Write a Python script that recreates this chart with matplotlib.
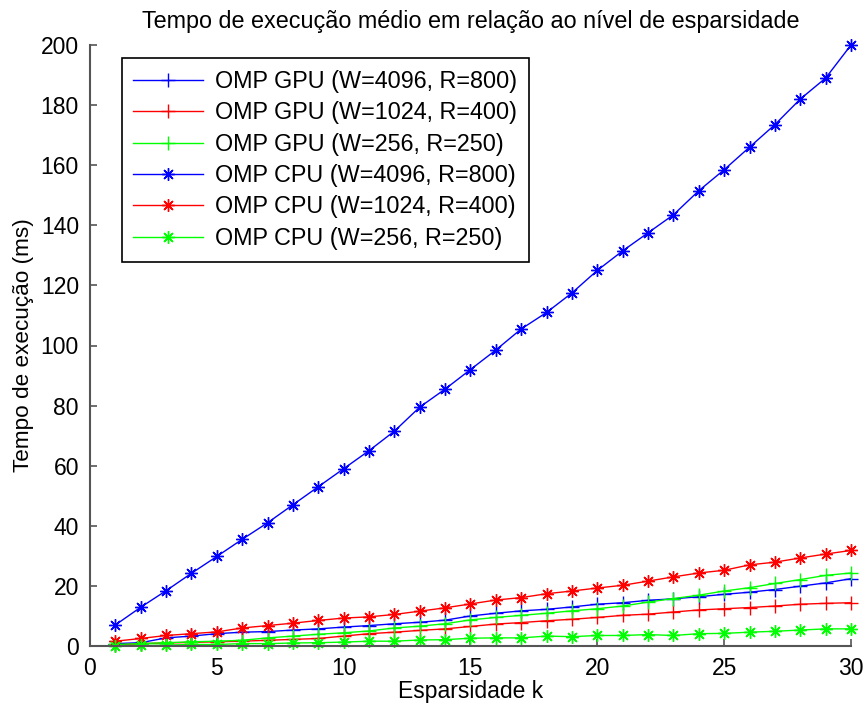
import numpy as np
import matplotlib
matplotlib.use('Agg')
import matplotlib.pyplot as plt

plt.rcParams['font.family'] = ['Liberation Sans', 'DejaVu Sans']

# esparsidade k
k = np.arange(1, 31)

# tempos medios (ms)
gpu_4096 = [0.8, 1.1, 2.7, 3.3, 4.1, 4.6, 4.8, 5.3, 5.7, 6.3, 6.8, 7.4, 7.9, 8.6, 10.0,
            10.9, 11.7, 12.2, 13.0, 13.9, 14.4, 15.2, 15.7, 16.4, 17.2, 17.9, 18.8, 19.9, 21.0, 22.4]
gpu_1024 = [0.3, 0.8, 1.0, 1.2, 1.4, 1.6, 1.9, 2.2, 2.5, 3.3, 4.1, 4.6, 5.2, 5.7, 6.5,
            7.3, 7.8, 8.4, 8.9, 9.5, 10.2, 10.6, 11.3, 12.0, 12.4, 12.8, 13.3, 13.9, 14.2, 14.4]
gpu_256 = [0.5, 0.8, 1.1, 1.4, 1.6, 1.9, 2.7, 3.3, 3.9, 4.4, 5.0, 6.0, 6.6, 7.4, 8.7,
           9.5, 10.2, 10.9, 11.7, 12.4, 13.3, 14.6, 15.8, 16.9, 18.3, 19.4, 20.8, 22.1, 23.5, 24.3]
cpu_4096 = [7.0, 12.9, 18.4, 24.2, 29.8, 35.5, 41.0, 47.0, 53.0, 59.0, 65.0, 71.5, 79.5, 85.5, 92.0,
            98.5, 105.5, 111.0, 117.5, 125.0, 131.5, 137.5, 143.5, 151.5, 158.5, 166.0, 173.5, 182.0, 189.0, 200.0]
cpu_1024 = [1.6, 2.5, 3.5, 4.1, 4.7, 6.0, 6.8, 7.6, 8.5, 9.3, 9.7, 10.5, 11.6, 12.7, 14.0,
            15.3, 16.1, 17.4, 18.3, 19.3, 20.2, 21.6, 23.0, 24.3, 25.2, 27.0, 27.9, 29.3, 30.6, 31.8]
cpu_256 = [0.0, 0.2, 0.3, 0.5, 0.5, 0.8, 0.8, 1.0, 1.1, 1.3, 1.6, 1.6, 2.0, 2.1, 2.6,
           2.7, 2.7, 3.3, 3.1, 3.5, 3.5, 3.8, 3.5, 4.1, 4.2, 4.6, 4.9, 5.3, 5.7, 5.7]

series = [
    (gpu_4096, 'b', '+', 'OMP GPU (W=4096, R=800)'),
    (gpu_1024, 'r', '+', 'OMP GPU (W=1024, R=400)'),
    (gpu_256, 'g', '+', 'OMP GPU (W=256, R=250)'),
    (cpu_4096, 'b', (8, 2, 0), 'OMP CPU (W=4096, R=800)'),
    (cpu_1024, 'r', (8, 2, 0), 'OMP CPU (W=1024, R=400)'),
    (cpu_256, 'g', (8, 2, 0), 'OMP CPU (W=256, R=250)'),
]
colors = {'b': '#0000ff', 'r': '#ff0000', 'g': '#00ff00'}

fig = plt.figure(figsize=(8.68, 7.09), dpi=100)
ax = fig.add_axes([90 / 868, 63 / 709, 761 / 868, 601 / 709])

for vals, c, m, lab in series:
    ms = 10 if m == '+' else 9
    ax.plot(k, vals, color=colors[c], marker=m, markersize=ms, lw=1.0,
            markeredgewidth=1.0, label=lab, clip_on=False)

ax.set_xlim(0, 30)
ax.set_ylim(0, 200)
ax.set_xticks(np.arange(0, 31, 5))
ax.set_yticks(np.arange(0, 201, 20))
for s in ['top', 'right']:
    ax.spines[s].set_visible(False)
for s in ['left', 'bottom']:
    ax.spines[s].set_color('#555555')
    ax.spines[s].set_linewidth(1.5)
ax.tick_params(direction='in', length=5, width=1.2, color='#555555',
               labelsize=16.5, pad=8)

ax.set_title('Tempo de execução médio em relação ao nível de esparsidade',
             fontsize=16.8, pad=12)
ax.set_xlabel('Esparsidade k', fontsize=16.5, labelpad=0)
ax.set_ylabel('Tempo de execução (ms)', fontsize=16.2, labelpad=5)

leg = ax.legend(loc='upper left', bbox_to_anchor=(0.0417, 0.978), borderaxespad=0,
                fontsize=16.8, fancybox=False, framealpha=1, edgecolor='black',
                handlelength=3.0, labelspacing=0.36, borderpad=0.5, handletextpad=0.5)
leg.get_frame().set_linewidth(1.2)

fig.savefig('out.png', dpi=100)
